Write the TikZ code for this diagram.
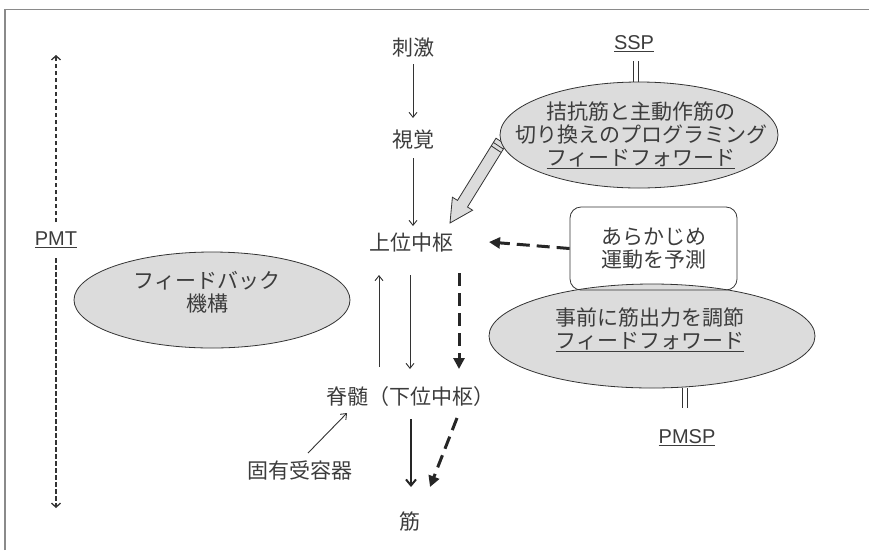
\documentclass[tikz,border=0pt]{standalone}
\usepackage{fontspec}
\setmainfont{Liberation Sans}
\newfontfamily\jp{Noto Sans CJK JP}
\usetikzlibrary{arrows.meta}
\definecolor{txt}{HTML}{3C3C3C}
\definecolor{ln}{HTML}{333333}
\definecolor{fillg}{HTML}{DCDCDC}
\definecolor{frame}{HTML}{8A8A8A}
\tikzset{
  lbl/.style={text=txt, font=\jp\fontsize{21}{23}\selectfont, align=center, inner sep=0pt},
  thin/.style={draw=ln, line width=0.9pt, -{Straight Barb[length=5pt,width=8pt]}},
  thickdash/.style={draw=black!85, line width=3pt, dash pattern=on 13pt off 7pt, -{Triangle[length=11pt,width=11pt]}},
  thicksolid/.style={draw=black!85, line width=2.2pt, -{Straight Barb[length=6pt,width=10pt,line width=2pt]}},
  pmt/.style={draw=black!80, line width=1.5pt, dash pattern=on 4.5pt off 2.5pt, -{Straight Barb[length=4pt,width=9pt,line width=1.3pt]}},
  oval/.style={ellipse, draw=ln, line width=0.8pt, fill=fillg},
  dbl/.style={draw=ln, line width=1pt},
}
\usetikzlibrary{shapes.geometric}
\begin{document}
\begin{tikzpicture}[x=1pt,y=-1pt]
\useasboundingbox (0,0) rectangle (869,550);
% frame
\draw[frame, line width=1.6pt] (5,550) -- (5,9.5) -- (869,9.5);

% big gray arrow
\coordinate (bigS) at (501,141.5);
\coordinate (bigT) at (450,223);
\filldraw[fill=fillg, draw=ln, line width=0.8pt]
  (496.0,138.2) -- (457.5,200.4) -- (452.4,197.2) -- (bigT) -- (472.6,210.2) -- (467.5,207.0) -- (506.0,144.8) -- cycle;
\draw[ln, line width=0.8pt] (503.3,149.0) -- (493.3,142.4) (501.1,152.4) -- (491.1,145.8);

% ellipses
\node[oval, minimum width=278pt, minimum height=106pt] (ffa) at (639,135) {};
\node[lbl] (ffat) at (641,135) {拮抗筋と主動作筋の\\切り換えのプログラミング\\\underline{フィードフォワード}};
\node[oval, minimum width=326pt, minimum height=104pt] (ffb) at (652,336) {};
\node[lbl] (ffbt) at (650,330) {事前に筋出力を調節\\\underline{フィードフォワード}};
\node[oval, minimum width=276pt, minimum height=96pt] (fb) at (212,300) {};
\node[lbl] (fbt) at (207,292) {フィードバック\\機構};

% main column
\node[lbl] (stim) at (413,48) {刺激};
\node[lbl] (vis) at (413,140) {視覚};
\node[lbl] (upper) at (411,243) {上位中枢};
\node[lbl] (spine) at (410,397) {脊髄（下位中枢）};
\node[lbl] (prop) at (300,470) {固有受容器};
\node[lbl] (muscle) at (410,522) {筋};

\draw[thin] (413,64) -- (413,118);
\draw[thin] (413,158) -- (413,226);
\draw[thin] (379,367) -- (379,275);
\draw[thin] (410,275) -- (410,369);
\draw[thin] (308,453) -- (347,413);
\draw[thicksolid] (411,419) -- (411,487);
\draw[thickdash] (459,273) -- (459,369);
\draw[thickdash] (457,418) -- (430,487);

% box
\node[lbl, draw=ln, line width=0.8pt, rounded corners=11pt, minimum width=167pt, minimum height=83pt, text=txt] (pred) at (653.5,248.5) {あらかじめ\\運動を予測};
\draw[thickdash] (pred.west) -- (489,242);

% SSP / PMSP
\node[lbl, font=\fontsize{20}{22}\selectfont] (ssp) at (634,44) {\underline{SSP}};
\draw[dbl] (633,61) -- (633,82) (638,61) -- (638,82);
\node[lbl, font=\fontsize{20}{22}\selectfont] (pmsp) at (687,438) {\underline{PMSP}};
\draw[dbl] (682.5,388) -- (682.5,408) (687.5,388) -- (687.5,408);

% PMT
\node[lbl, font=\fontsize{20}{22}\selectfont] (pmtl) at (56,240) {\underline{PMT}};
\draw[pmt] (56,222) -- (56,55);
\draw[pmt] (56,258) -- (56,508);
\end{tikzpicture}
\end{document}
